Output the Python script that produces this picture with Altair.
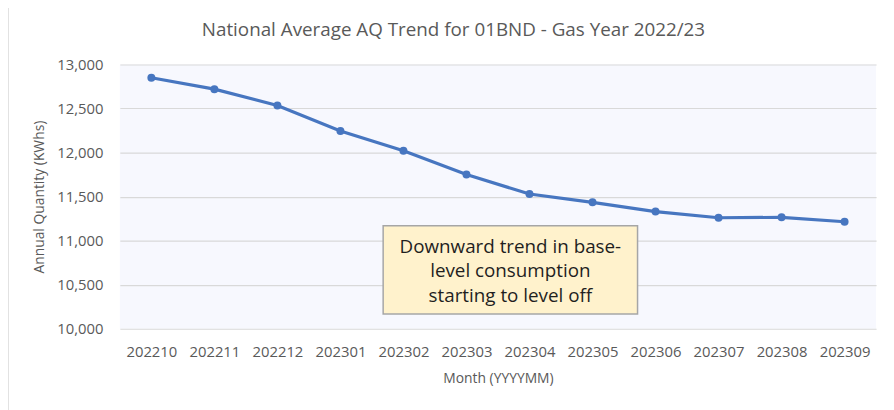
import altair as alt
import pandas as pd

months = ["202210", "202211", "202212", "202301", "202302", "202303",
          "202304", "202305", "202306", "202307", "202308", "202309"]
aq_values = [12850, 12720, 12535, 12245, 12020, 11750,
             11530, 11435, 11330, 11260, 11265, 11215]
y_ticks = [10000, 10500, 11000, 11500, 12000, 12500, 13000]
title_text = "National Average AQ Trend for 01BND - Gas Year 2022/23"
note_lines = ["Downward trend in base-", "level consumption", "starting to level off"]

FONT = "Open Sans"
df = pd.DataFrame({"month": months, "aq": aq_values})
one = pd.DataFrame({"k": [0]})

W, H = 764, 267

x_enc = alt.X("month:O", sort=months,
              scale=alt.Scale(type="point", padding=0.5),
              axis=alt.Axis(title="Month (YYYYMM)", labelAngle=0, ticks=False,
                            domain=False, grid=False, labelPadding=16,
                            titlePadding=12))
y_enc = alt.Y("aq:Q", scale=alt.Scale(domain=[10000, 13000], nice=False, zero=False),
              axis=alt.Axis(title="Annual Quantity (KWhs)", values=y_ticks,
                            format=",.0f", ticks=False, domain=False, grid=True,
                            labelPadding=17, titlePadding=10))

base = alt.Chart(df)
single = alt.Chart(one)

line = base.mark_line(color="#4776C0", strokeWidth=3.2).encode(x=x_enc, y=y_enc)
pts = base.mark_point(filled=True, color="#4776C0", size=65, opacity=1).encode(
    x=x_enc, y=y_enc)

frame = single.mark_rect(fill=None, stroke="#D9D9D9", strokeWidth=1.5, clip=False).encode(
    x=alt.value(-113), x2=alt.value(900), y=alt.value(-60), y2=alt.value(400))

box = single.mark_rect(fill="#FFF2CC", stroke="#A6A6A6", strokeWidth=1.5).encode(
    x=alt.value(266), x2=alt.value(523), y=alt.value(163), y2=alt.value(252))

note = single.mark_text(font=FONT, fontSize=19, fontWeight="normal", color="#1f1f1f",
                        align="center", baseline="middle", lineHeight=25).encode(
    x=alt.value(394.5), y=alt.value(184), text=alt.value(note_lines))

title = single.mark_text(font=FONT, fontSize=19, fontWeight="normal", color="#595959",
                         align="center", baseline="middle").encode(
    x=alt.value(337), y=alt.value(-35), text=alt.value(title_text))

chart = alt.layer(frame, line, pts, box, note, title).properties(
    width=W, height=H,
    autosize=alt.AutoSizeParams(type="none"),
    padding={"left": 113, "top": 55, "right": 10, "bottom": 80},
    background="white",
).configure_view(
    fill="#F7F8FE", stroke=None
).configure_axis(
    labelFont=FONT, titleFont=FONT, labelFontSize=15, titleFontSize=14,
    labelColor="#595959", titleColor="#595959", titleFontWeight="normal",
    gridColor="#D9D9D9", gridWidth=1.2
)

chart.save("out.html", embed_options={"renderer": "svg", "actions": False})
